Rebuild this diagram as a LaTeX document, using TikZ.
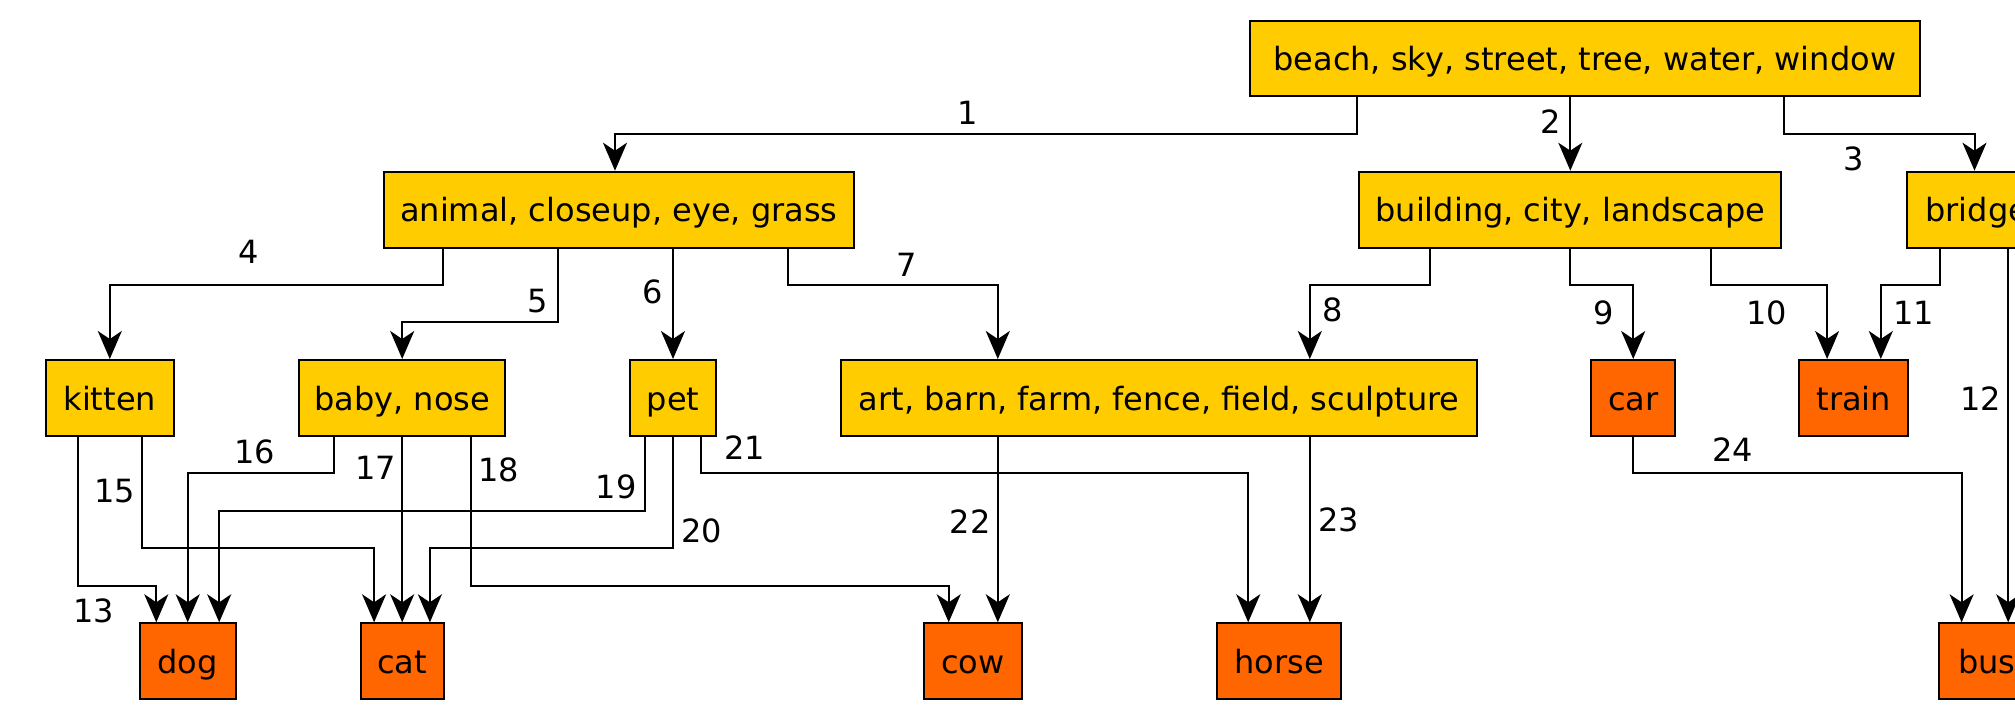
\documentclass[tikz,border=0pt]{standalone}
\usepackage{fontspec}
\setmainfont{DejaVu Sans}
\usetikzlibrary{arrows.meta}
\definecolor{innerc}{HTML}{FFCC00}
\definecolor{leafc}{HTML}{FF6600}
\begin{document}
\begin{tikzpicture}[x=1pt,y=-1pt,
  every node/.style={font=\fontsize{32}{38}\selectfont},
  box/.style={draw=black, line width=2pt, minimum height=76pt, inner sep=0pt, text height=24pt, text depth=0pt},
  inn/.style={box, fill=innerc},
  lf/.style={box, fill=leafc},
  arr/.style={draw=black, line width=2pt, -{Stealth[length=28pt,width=24pt,inset=8pt]}},
  lab/.style={inner sep=0pt}]
\useasboundingbox (0,0) rectangle (2015,707);
\clip (0,0) rectangle (2015,707);
% row 1
\node[inn, minimum width=669.6pt, minimum height=75pt] (beach) at (1584.8,58.5) {beach, sky, street, tree, water, window};
% row 2
\node[inn, minimum width=469.7pt] (animal) at (618.8,209.7) {animal, closeup, eye, grass};
\node[inn, minimum width=421.8pt] (building) at (1570.3,209.7) {building, city, landscape};
\node[inn, anchor=west, inner xsep=18pt] (bridge) at (1906.3,209.7) {bridge};
% row 3
\node[inn, minimum width=128.6pt] (kitten) at (109.8,398) {kitten};
\node[inn, minimum width=206.3pt] (baby) at (402.2,398) {baby, nose};
\node[inn, minimum width=86.2pt] (pet) at (673,398) {pet};
\node[inn, minimum width=636.2pt] (art) at (1159.2,398) {art, barn, farm, fence, field, sculpture};
\node[lf, minimum width=84.3pt] (car) at (1633.2,398) {car};
\node[lf, minimum width=109pt] (train) at (1853.7,398) {train};
% row 4
\node[lf, minimum width=96pt] (dog) at (187.7,661.3) {dog};
\node[lf, minimum width=83pt] (cat) at (402.2,661.3) {cat};
\node[lf, minimum width=98.6pt] (cow) at (973,661.3) {cow};
\node[lf, minimum width=124pt] (horse) at (1279,661.3) {horse};
\node[lf, anchor=west, inner xsep=19pt] (bus) at (1938,661.3) {bus};
% connectors
\draw[arr] (beach.south -| 1357,0) |- (615,134) -- (animal.north -| 615,0);
\draw[arr] (beach.south -| building.north) -- (building.north);
\draw[arr] (beach.south -| 1783.5,0) |- (1974.5,134) -- (bridge.north -| 1974.5,0);
\draw[arr] (animal.south -| 442.9,0) |- (109.8,285) -- (kitten.north);
\draw[arr] (animal.south -| 557.6,0) |- (402.2,322.3) -- (baby.north);
\draw[arr] (animal.south -| pet.north) -- (pet.north);
\draw[arr] (animal.south -| 788.4,0) |- (997.8,285) -- (art.north -| 997.8,0);
\draw[arr] (building.south -| 1430.2,0) |- (1309.8,285) -- (art.north -| 1309.8,0);
\draw[arr] (building.south) |- (1633.2,285) -- (car.north);
\draw[arr] (building.south -| 1711,0) |- (1827.1,285) -- (train.north -| 1827.1,0);
\draw[arr] (bridge.south -| 1940.4,0) |- (1880.8,285) -- (train.north -| 1880.8,0);
\draw[arr] (bridge.south -| 2008.2,0) -- (bus.north -| 2008.2,0);
\draw[arr] (kitten.south -| 78.1,0) |- (156.3,586) -- (dog.north -| 156.3,0);
\draw[arr] (kitten.south -| 142,0) |- (374.1,548.3) -- (cat.north -| 374.1,0);
\draw[arr] (baby.south -| 333.5,0) |- (187.7,473) -- (dog.north);
\draw[arr] (baby.south) -- (cat.north);
\draw[arr] (baby.south -| 470.5,0) |- (948.7,586) -- (cow.north -| 948.7,0);
\draw[arr] (pet.south -| 644.6,0) |- (219.2,510.7) -- (dog.north -| 219.2,0);
\draw[arr] (pet.south) |- (429.9,548.3) -- (cat.north -| 429.9,0);
\draw[arr] (pet.south -| 701.3,0) |- (1248.2,473) -- (horse.north -| 1248.2,0);
\draw[arr] (art.south -| 997.8,0) -- (cow.north -| 997.8,0);
\draw[arr] (art.south -| 1309.8,0) -- (horse.north -| 1309.8,0);
\draw[arr] (car.south) |- (1961.6,473) -- (bus.north -| 1961.6,0);
% labels
\node[lab] (l1) at (967.9,113.3) {1};
\node[lab] (l2) at (1550.2,121.7) {2};
\node[lab] (l3) at (1854.1,159) {3};
\node[lab] (l4) at (248.7,252) {4};
\node[lab] (l5) at (538,301) {5};
\node[lab] (l6) at (653.1,291.7) {6};
\node[lab] (l7) at (906.7,265) {7};
\node[lab] (l8) at (1333,310) {8};
\node[lab] (l9) at (1603.9,313) {9};
\node[lab] (l10) at (1766.7,313) {10};
\node[lab] (l11) at (1913.7,313) {11};
\node[lab] (l12) at (1980.4,398.3) {12};
\node[lab] (l13) at (93.75,610.7) {13};
\node[lab] (l15) at (114.7,490.7) {15};
\node[lab] (l16) at (254.5,451.7) {16};
\node[lab] (l17) at (375.9,468.3) {17};
\node[lab] (l18) at (498.7,470) {18};
\node[lab] (l19) at (616.1,486.7) {19};
\node[lab] (l20) at (701.8,531) {20};
\node[lab] (l21) at (744.6,447.3) {21};
\node[lab] (l22) at (970,521.7) {22};
\node[lab] (l23) at (1338.4,520) {23};
\node[lab] (l24) at (1732.5,450) {24};
\end{tikzpicture}
\end{document}
